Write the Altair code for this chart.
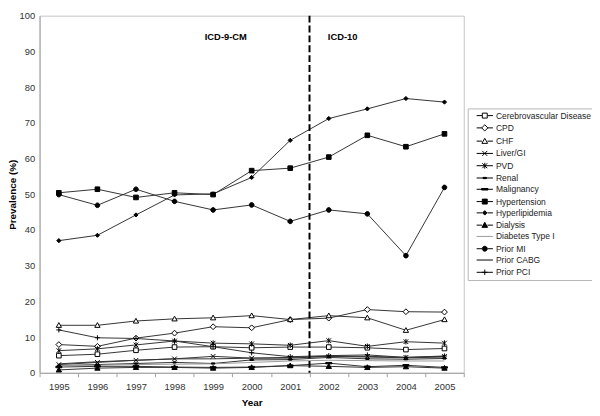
import altair as alt
import pandas as pd

years = [1995, 1996, 1997, 1998, 1999, 2000, 2001, 2002, 2003, 2004, 2005]

series_names = [
    "Cerebrovascular Disease", "CPD", "CHF", "Liver/GI", "PVD", "Renal",
    "Malignancy", "Hypertension", "Hyperlipidemia", "Dialysis",
    "Diabetes Type I", "Prior MI", "Prior CABG", "Prior PCI",
]

cerebrovascular = [4.8, 5.2, 6.3, 7.2, 7.3, 7.0, 7.2, 7.2, 7.0, 6.5, 6.8]
cpd = [7.9, 7.4, 9.7, 11.1, 12.9, 12.6, 14.9, 15.3, 17.7, 17.1, 17.0]
chf = [13.3, 13.3, 14.5, 15.1, 15.4, 16.0, 14.9, 16.0, 15.4, 11.9, 14.9]
liver_gi = [2.3, 2.9, 3.5, 3.9, 4.6, 4.1, 4.3, 4.6, 4.6, 4.3, 4.6]
pvd = [6.2, 6.7, 7.8, 8.9, 8.3, 8.1, 7.7, 9.0, 7.4, 8.7, 8.3]
renal = [2.0, 2.3, 2.6, 2.9, 2.6, 3.6, 3.7, 4.3, 3.9, 3.8, 4.0]
malignancy = [1.6, 1.8, 1.8, 1.6, 1.5, 1.6, 2.0, 2.7, 1.7, 2.1, 1.5]
hypertension = [50.4, 51.4, 49.1, 50.4, 49.9, 56.6, 57.3, 60.4, 66.5, 63.3, 66.9]
hyperlipidemia = [37.0, 38.5, 44.2, 49.8, 50.1, 54.7, 65.1, 71.2, 73.9, 76.8, 75.8]
dialysis = [0.8, 1.3, 1.5, 1.5, 1.3, 1.5, 2.0, 1.8, 1.5, 1.7, 1.3]
diabetes_type1 = [2.0, 2.1, 2.3, 2.4, 2.5, 2.9, 3.3, 3.5, 3.4, 3.3, 3.3]
prior_mi = [49.9, 46.9, 51.4, 48.0, 45.6, 47.0, 42.4, 45.6, 44.5, 32.8, 51.9]
prior_cabg = [2.5, 3.1, 3.5, 3.9, 3.9, 4.1, 4.1, 4.6, 4.4, 4.2, 4.4]
prior_pci = [12.0, 9.8, 9.6, 8.9, 7.3, 5.6, 4.5, 4.8, 5.0, 4.3, 4.7]

series_values = [
    cerebrovascular, cpd, chf, liver_gi, pvd, renal, malignancy, hypertension,
    hyperlipidemia, dialysis, diabetes_type1, prior_mi, prior_cabg, prior_pci,
]

ann_labels = ["ICD-9-CM", "ICD-10"]
ann_years = [1999, 2002]
ann_band = [0.83, 0.86]
ann_value = [94.0, 94.0]
divider_year = [2001]

# marker styles (unit coordinates)
SQ = "M-1,-1L1,-1L1,1L-1,1Z"
DI = "M0,-1.25L1.25,0L0,1.25L-1.25,0Z"
SDI = "M0,-0.9L0.9,0L0,0.9L-0.9,0Z"
TR = "M0,-1.15L1.15,0.9L-1.15,0.9Z"
XX = "M-1,-1L1,1M-1,1L1,-1"
ST = "M-1,-1L1,1M-1,1L1,-1M0,-1.2L0,1.2"
SD = "M-0.7,-0.25L0.7,-0.25L0.7,0.25L-0.7,0.25Z"
LD = "M-1.3,-0.3L1.3,-0.3L1.3,0.3L-1.3,0.3Z"
PL = "M0,-1.1L0,1.1M-1.1,0L1.1,0"
CI = "M-1,0A1,1,0,1,0,1,0A1,1,0,1,0,-1,0Z"
NONE = "M0,0L0,0"

marker = {
    "Cerebrovascular Disease": (SQ, "white", "black"),
    "CPD": (DI, "white", "black"),
    "CHF": (TR, "white", "black"),
    "Liver/GI": (XX, "none", "black"),
    "PVD": (ST, "none", "black"),
    "Renal": (SD, "black", "black"),
    "Malignancy": (LD, "black", "black"),
    "Hypertension": (SQ, "black", "black"),
    "Hyperlipidemia": (SDI, "black", "black"),
    "Dialysis": (TR, "black", "black"),
    "Diabetes Type I": (NONE, "none", "#9a9a9a"),
    "Prior MI": (CI, "black", "black"),
    "Prior CABG": (NONE, "none", "black"),
    "Prior PCI": (PL, "none", "black"),
}
closed = {SQ, DI, TR, CI, SDI}


def legend_path(p):
    if p == NONE:
        return "M-3.3,0L3.3,0"
    if p in closed:
        return "M-3.3,0L-1.1,0M1.1,0L3.3,0" + p
    return "M-3.3,0L3.3,0" + p


rows = []
for name, vals in zip(series_names, series_values):
    for yr, v in zip(years, vals):
        rows.append({"year": yr, "series": name, "value": v})
df = pd.DataFrame(rows)

marker_series = [s for s in series_names if marker[s][0] != NONE]

line_colors = ["#9a9a9a" if s == "Diabetes Type I" else "#333333" for s in series_names]

font = "Liberation Sans"

x_axis = alt.Axis(
    title="Year", titleFontWeight="bold", titleFontSize=10, titlePadding=7,
    labelAngle=0, labelFontSize=9.5, labelColor="#333333", labelPadding=5,
    tickBand="extent", tickSize=4, tickColor="#a0a0a0",
    domainColor="#a0a0a0", grid=False,
)
x_scale = alt.Scale(type="band", paddingInner=0, paddingOuter=0)
y_axis = alt.Axis(
    title="Prevalence (%)", titleFontWeight="bold", titleFontSize=10,
    titlePadding=2, values=list(range(0, 101, 10)), labelFontSize=9.5,
    labelColor="#333333", labelPadding=5, ticks=False, labelOverlap=False,
    domainColor="#a0a0a0", grid=False,
)
y_scale = alt.Scale(domain=[0, 100], nice=False)


def xe(band=0.5):
    return alt.X("year:O", bandPosition=band, scale=x_scale, axis=x_axis)


y_enc = alt.Y("value:Q", scale=y_scale, axis=y_axis)

base = alt.Chart(df)

lines = base.mark_line(strokeWidth=1).encode(
    x=xe(), y=y_enc,
    color=alt.Color("series:N", scale=alt.Scale(domain=series_names, range=line_colors), legend=None),
)

points = base.transform_filter(
    alt.FieldOneOfPredicate(field="series", oneOf=marker_series)
).mark_point(size=22, strokeWidth=1, opacity=1).encode(
    x=xe(), y=y_enc,
    shape=alt.Shape("series:N", scale=alt.Scale(domain=marker_series, range=[marker[s][0] for s in marker_series]), legend=None),
    fill=alt.Fill("series:N", scale=alt.Scale(domain=marker_series, range=[marker[s][1] for s in marker_series]), legend=None),
    stroke=alt.Stroke("series:N", scale=alt.Scale(domain=marker_series, range=[marker[s][2] for s in marker_series]), legend=None),
)

leg = alt.Legend(
    title=None, orient="none", legendX=434, legendY=94, padding=3,
    labelFont=font, labelFontSize=8.6, labelColor="#222222",
    symbolSize=25, symbolStrokeWidth=1, symbolOpacity=1, symbolOffset=10,
    labelOffset=7, rowPadding=2.45, strokeColor="#b5b5b5", fillColor="white",
)

legend_layer = base.mark_point(opacity=0, size=22).encode(
    x=xe(), y=y_enc,
    shape=alt.Shape("series:N", scale=alt.Scale(domain=series_names, range=[legend_path(marker[s][0]) for s in series_names]), legend=leg),
    fill=alt.Fill("series:N", scale=alt.Scale(domain=series_names, range=[marker[s][1] if marker[s][1] != "none" else "transparent" for s in series_names]), legend=leg),
    stroke=alt.Stroke("series:N", scale=alt.Scale(domain=series_names, range=[marker[s][2] for s in series_names]), legend=leg),
)

divider = alt.Chart(pd.DataFrame({"year": divider_year})).mark_rule(
    strokeDash=[7, 3], strokeWidth=2, color="black"
).encode(x=xe(1))

ann_df = pd.DataFrame({"year": ann_years, "value": ann_value, "label": ann_labels})
ann_layers = []
for i in range(len(ann_labels)):
    ann_layers.append(
        alt.Chart(ann_df.iloc[[i]]).mark_text(
            font=font, fontSize=9.5, fontWeight="bold", color="black"
        ).encode(
            x=xe(ann_band[i]),
            y=y_enc,
            text="label:N",
        )
    )

chart = alt.layer(
    lines, points, legend_layer, divider, *ann_layers
).resolve_scale(
    shape="independent", fill="independent", stroke="independent"
).properties(
    width=430, height=362,
    autosize=alt.AutoSizeParams(type="none"),
    padding={"left": 32, "top": 5, "right": 130, "bottom": 38},
).configure(
    font=font,
).configure_view(
    stroke="#c4c4c4", strokeWidth=1,
)

chart.save("out.html", embed_options={"renderer": "svg", "actions": False})
